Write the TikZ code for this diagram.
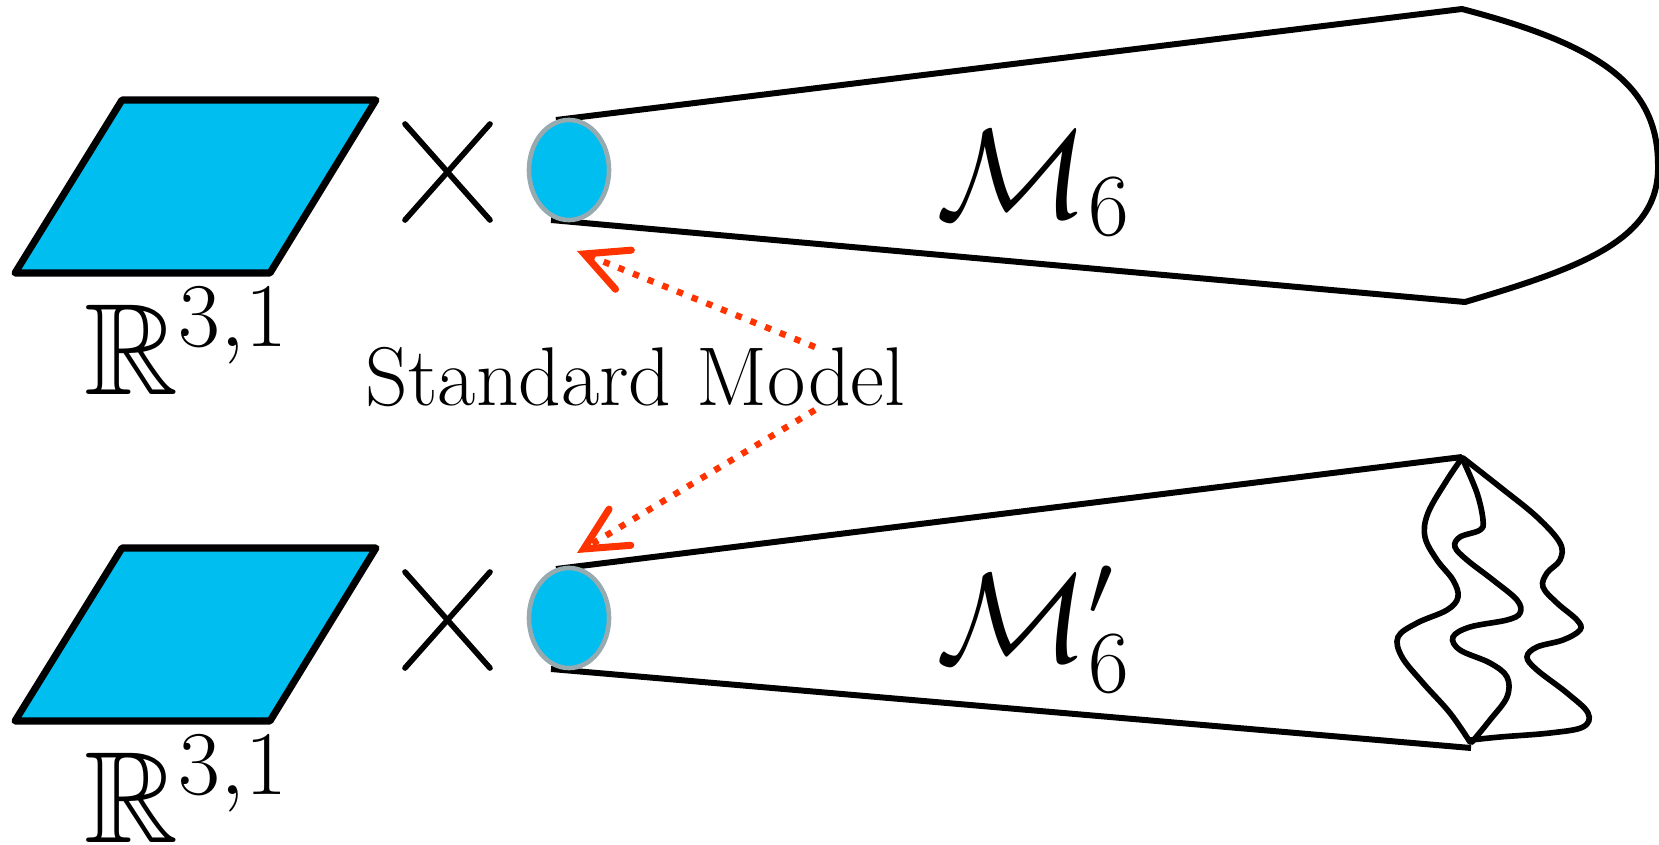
\RequirePackage{fix-cm}
\documentclass[tikz,border=0pt]{standalone}
\usepackage{amssymb}
\usetikzlibrary{arrows.meta,shapes.geometric}
\definecolor{fillcyan}{RGB}{0,190,240}
\definecolor{rimgray}{RGB}{150,170,175}
\definecolor{smred}{RGB}{255,51,0}
\begin{document}
\begin{tikzpicture}[x=0.01cm,y=-0.01cm,
  plane/.style={draw=black,fill=fillcyan,line width=2pt,line join=round},
  crossline/.style={line width=1.6pt,line cap=round},
  blob/.style={ellipse,draw=rimgray,fill=fillcyan,line width=1.3pt,minimum width=0.8cm,minimum height=1cm,inner sep=0pt},
  rim/.style={line width=1.7pt,line join=round},
  squig/.style={line width=1.6pt,line cap=round},
  smarrow/.style={draw=smred,line width=1.8pt,dash pattern=on 1.8pt off 2.7pt,-{Straight Barb[length=12pt,width=12pt,line width=2pt,line cap=round]}},
  lab/.style={inner sep=0pt,anchor=base west}
]
\useasboundingbox (0,0) rectangle (1659,845);

% ---------- top row ----------
\draw[plane] (122,100) -- (376,100) -- (270,273) -- (15,273) -- cycle;
\node[lab] (r1) at (84,394) {\fontsize{37}{44}\selectfont $\mathbb{R}^{3,1}$};
\draw[crossline] (405,124) -- (490,220);
\draw[crossline] (490,124) -- (405,220);
\draw[rim] (556,120) -- (1462,9)
  .. controls (1600,45) and (1658,85) .. (1658,165)
  .. controls (1660,240) and (1580,268) .. (1465,302) -- (551,220);
\node[blob] (e1) at (569,170) {};
\node[lab] (m1) at (936,217) {\fontsize{36}{42}\selectfont $\mathcal{M}_6$};

% ---------- bottom row ----------
\draw[plane] (122,548) -- (376,548) -- (270,721) -- (15,721) -- cycle;
\node[lab] (r2) at (84,842) {\fontsize{37}{44}\selectfont $\mathbb{R}^{3,1}$};
\draw[crossline] (405,572) -- (490,668);
\draw[crossline] (490,572) -- (405,668);
\draw[rim] (556,569) -- (1462,457);
\draw[rim] (551,669) -- (1471,748);
\node[blob] (e2) at (569,618) {};
\node[lab] (m2) at (936,661) {\fontsize{36}{42}\selectfont $\mathcal{M}'_6$};

\draw[squig] plot[smooth,tension=0.6] coordinates {(1462,458) (1447,480) (1428,513) (1425,537) (1437,560) (1453,580) (1458,597) (1447,610) (1417,623) (1398,637) (1402,657) (1423,683) (1450,713) (1470,742)};
\draw[squig] plot[smooth,tension=0.6] coordinates {(1463,460) (1477,493) (1483,520) (1480,530) (1460,537) (1455,547) (1467,560) (1493,580) (1517,600) (1520,613) (1507,620) (1470,627) (1453,637) (1460,650) (1490,663) (1507,677) (1507,697) (1490,720) (1472,742)};
\draw[squig] plot[smooth,tension=0.6] coordinates {(1463,458) (1500,487) (1537,517) (1560,543) (1560,560) (1547,573) (1543,587) (1557,603) (1577,620) (1580,630) (1563,640) (1537,647) (1527,657) (1537,670) (1567,693) (1588,713) (1583,727) (1550,733) (1500,737) (1471,740)};

% ---------- Standard Model ----------
\node[lab] (sm) at (365,405) {\fontsize{23.7}{28}\selectfont Standard Model};
\coordinate (s1) at (815,347);
\coordinate (t1) at (577,251);
\coordinate (s2) at (815,410);
\coordinate (t2) at (577,553);
\draw[smarrow] (s1) -- (t1);
\draw[smarrow] (s2) -- (t2);
\end{tikzpicture}
\end{document}
